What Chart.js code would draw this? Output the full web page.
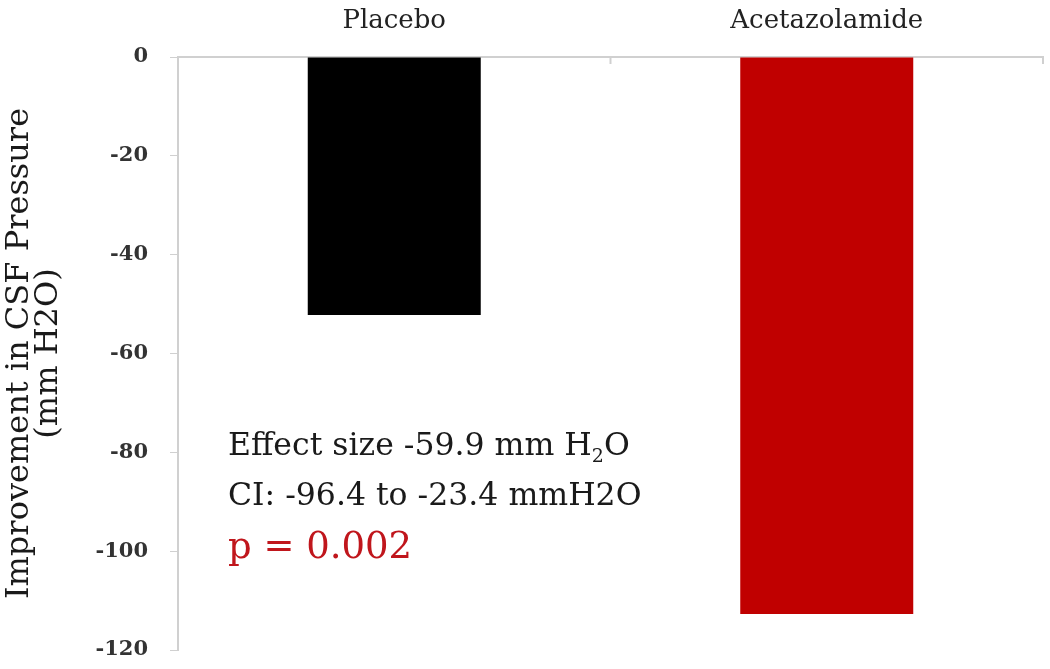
<!DOCTYPE html>
<html>
<head>
<meta charset="utf-8">
<script src="https://cdn.jsdelivr.net/npm/chart.js@4.4.1/dist/chart.umd.min.js"></script>
<style>
  html, body { margin: 0; padding: 0; background: #fff; }
  #wrap { width: 1050px; height: 669px; }
</style>
</head>
<body>
<div id="wrap"><canvas id="mycanvas" width="1050" height="669"></canvas></div>
<script>
// data
var groups = ["Placebo", "Acetazolamide"];
var improvement = [-52.2, -112.7];
var barColors = ["#000000", "#c00000"];
var yTicks = [0, -20, -40, -60, -80, -100, -120];
var yTitle = ["Improvement in CSF Pressure", "(mm H2O)"];
var effectLine = ["Effect size -59.9 mm H", "2", "O"];
var ciLine = "CI: -96.4 to -23.4 mmH2O";
var pLine = "p = 0.002";

var serif = "'DejaVu Serif', 'Liberation Serif', serif";

// small tick marks hanging down from the top axis at the category edges
var edgeTicks = {
	id: "edgeTicks",
	afterDraw: function(chart) {
		var c = chart.ctx;
		var sx = chart.scales.x;
		var top = chart.chartArea.top;
		c.save();
		c.strokeStyle = "#d0d0d0";
		c.lineWidth = 2;
		for (var i = 0; i <= groups.length; i++) {
			var x = sx.getPixelForValue(i - 0.5);
			c.beginPath();
			c.moveTo(x, top);
			c.lineTo(x, top + 7);
			c.stroke();
		}
		c.restore();
	}
};

var notes = {
	id: "notes",
	afterDraw: function(chart) {
		var c = chart.ctx;
		var a = chart.chartArea;
		var x0 = a.left + 50;
		c.save();
		c.textBaseline = "alphabetic";
		c.textAlign = "left";
		c.fillStyle = "#1a1a1a";
		c.font = "31.5px " + serif;
		var x = x0;
		c.fillText(effectLine[0], x, a.top + 398);
		x += c.measureText(effectLine[0]).width;
		c.font = "19px " + serif;
		c.fillText(effectLine[1], x, a.top + 405);
		x += c.measureText(effectLine[1]).width;
		c.font = "31.5px " + serif;
		c.fillText(effectLine[2], x, a.top + 398);
		c.fillText(ciLine, x0, a.top + 448);
		c.fillStyle = "#c0161c";
		c.font = "37px " + serif;
		c.fillText(pLine, x0, a.top + 501);
		c.restore();
	}
};

var chartdata = {
	labels: groups,
	datasets: [
		{
			data: improvement,
			backgroundColor: barColors,
			borderWidth: 0,
			barPercentage: 0.4,
			categoryPercentage: 1.0
		}
	]
};

var options = {
	responsive: false,
	animation: false,
	layout: { padding: { left: 0, right: 7, top: 0, bottom: 0 } },
	plugins: {
		legend: { display: false },
		tooltip: { enabled: false }
	},
	scales: {
		x: {
			position: "top",
			grid: { offset: true, drawOnChartArea: false, drawTicks: false },
			border: { color: "#d0d0d0", width: 2 },
			ticks: { color: "#222", font: { family: serif, size: 26 }, padding: 20 },
			afterFit: function(s) { s.height = 57; }
		},
		y: {
			min: -120,
			max: 0,
			afterBuildTicks: function(s) {
				s.ticks = yTicks.map(function(v) { return { value: v }; });
			},
			grid: { drawOnChartArea: false, color: "#d0d0d0", tickLength: 8 },
			border: { color: "#d0d0d0", width: 2 },
			ticks: { color: "#333", font: { family: serif, size: 21, weight: "bold" }, padding: 22 },
			title: {
				display: true,
				text: yTitle,
				color: "#1a1a1a",
				font: { family: serif, size: 32, lineHeight: 0.92 },
				padding: { top: 5, bottom: 10 }
			},
			afterFit: function(s) {
				s.width = 178;
				s.paddingTop = 0;
				s.paddingBottom = 19;
			}
		}
	}
};

var ctx = document.getElementById("mycanvas");
var barGraph = new Chart(ctx, {
	type: "bar",
	data: chartdata,
	options: options,
	plugins: [notes, edgeTicks]
});
</script>
</body>
</html>
